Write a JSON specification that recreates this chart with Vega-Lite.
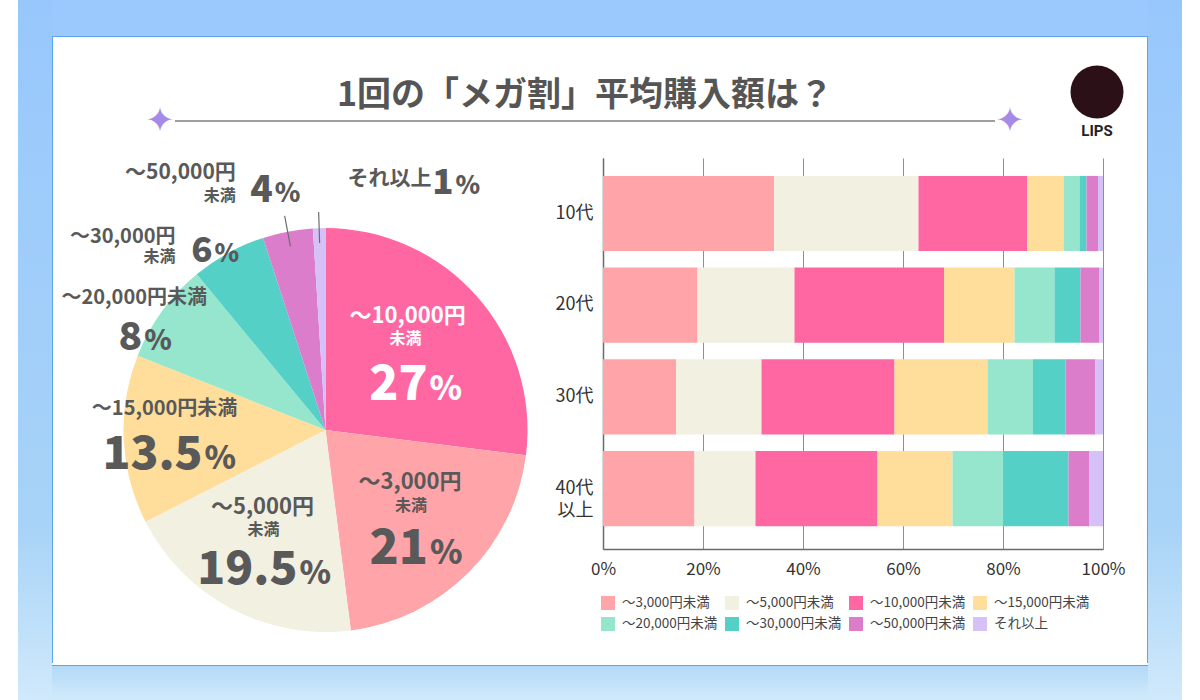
{
"$schema":"https://vega.github.io/schema/vega-lite/v6.json",
"background":"#ffffff",
"padding":{"left":18,"right":18,"top":0,"bottom":0},
"spacing":0,
"config":{"view":{"stroke":null},"concat":{"spacing":0},"font":"Noto Sans CJK JP"},
"datasets":{
"pie":[
{"cat":"〜10,000円未満","name1":"〜10,000円","name2":"未満","pct":27},
{"cat":"〜3,000円未満","name1":"〜3,000円","name2":"未満","pct":21},
{"cat":"〜5,000円未満","name1":"〜5,000円","name2":"未満","pct":19.5},
{"cat":"〜15,000円未満","name1":"〜15,000円未満","name2":"","pct":13.5},
{"cat":"〜20,000円未満","name1":"〜20,000円未満","name2":"","pct":8},
{"cat":"〜30,000円未満","name1":"〜30,000円","name2":"未満","pct":6},
{"cat":"〜50,000円未満","name1":"〜50,000円","name2":"未満","pct":4},
{"cat":"それ以上","name1":"それ以上","name2":"","pct":1}
],
"bars":[
{"age":"10代","cat":"〜3,000円未満","k":1,"pct":34.2},
{"age":"10代","cat":"〜5,000円未満","k":2,"pct":28.9},
{"age":"10代","cat":"〜10,000円未満","k":3,"pct":21.7},
{"age":"10代","cat":"〜15,000円未満","k":4,"pct":7.3},
{"age":"10代","cat":"〜20,000円未満","k":5,"pct":3.2},
{"age":"10代","cat":"〜30,000円未満","k":6,"pct":1.4},
{"age":"10代","cat":"〜50,000円未満","k":7,"pct":2.3},
{"age":"10代","cat":"それ以上","k":8,"pct":1.0},
{"age":"20代","cat":"〜3,000円未満","k":1,"pct":18.9},
{"age":"20代","cat":"〜5,000円未満","k":2,"pct":19.4},
{"age":"20代","cat":"〜10,000円未満","k":3,"pct":29.9},
{"age":"20代","cat":"〜15,000円未満","k":4,"pct":14.1},
{"age":"20代","cat":"〜20,000円未満","k":5,"pct":8.0},
{"age":"20代","cat":"〜30,000円未満","k":6,"pct":5.2},
{"age":"20代","cat":"〜50,000円未満","k":7,"pct":3.7},
{"age":"20代","cat":"それ以上","k":8,"pct":0.8},
{"age":"30代","cat":"〜3,000円未満","k":1,"pct":14.6},
{"age":"30代","cat":"〜5,000円未満","k":2,"pct":17.1},
{"age":"30代","cat":"〜10,000円未満","k":3,"pct":26.6},
{"age":"30代","cat":"〜15,000円未満","k":4,"pct":18.6},
{"age":"30代","cat":"〜20,000円未満","k":5,"pct":9.1},
{"age":"30代","cat":"〜30,000円未満","k":6,"pct":6.5},
{"age":"30代","cat":"〜50,000円未満","k":7,"pct":6.0},
{"age":"30代","cat":"それ以上","k":8,"pct":1.5},
{"age":"40代以上","cat":"〜3,000円未満","k":1,"pct":18.3},
{"age":"40代以上","cat":"〜5,000円未満","k":2,"pct":12.2},
{"age":"40代以上","cat":"〜10,000円未満","k":3,"pct":24.4},
{"age":"40代以上","cat":"〜15,000円未満","k":4,"pct":15.0},
{"age":"40代以上","cat":"〜20,000円未満","k":5,"pct":10.2},
{"age":"40代以上","cat":"〜30,000円未満","k":6,"pct":13.0},
{"age":"40代以上","cat":"〜50,000円未満","k":7,"pct":4.1},
{"age":"40代以上","cat":"それ以上","k":8,"pct":2.8}
]
},
"hconcat":[
{"width":34,"height":700,"view":{"stroke":null,"fill":{"gradient":"linear","x1":0,"y1":0,"x2":0,"y2":1,"stops":[{"offset":0,"color":"#98c7fd"},{"offset":0.75,"color":"#a7d3f7"},{"offset":1,"color":"#d0e9fb"}]}},"data":{"values":[]},"mark":"point"},
{"vconcat":[
 {"width":1096,"height":36,"view":{"stroke":null,"fill":"#9bc9fd"},"data":{"values":[]},"mark":"point"},
 {"width":1096,"height":1,"view":{"stroke":null,"fill":"#5ba6ea"},"data":{"values":[]},"mark":"point"},
 {"hconcat":[
  {"width":1,"height":626,"view":{"stroke":null,"fill":"#5ba6ea"},"data":{"values":[]},"mark":"point"},
  {"vconcat":[
   {"hconcat":[
    {"width":92,"height":121,"data":{"values":[]},"mark":"point"},
    {"vconcat":[
     {"width":30,"height":62,"data":{"values":[]},"mark":"point"},
     {"width":30,"height":44,"data":{"values":[{"s":"✦"}]},"mark":{"type":"text","font":"DejaVu Sans","fontSize":35,"color":"#a58be8","baseline":"middle"},"encoding":{"text":{"field":"s","type":"nominal"}}}
    ],"spacing":0},
    {"vconcat":[
     {"width":820,"height":35,"data":{"values":[]},"mark":"point"},
     {"width":820,"height":48,"data":{"values":[{"t":"1回の「メガ割」平均購入額は？"}]},"mark":{"type":"text","fontSize":34,"fontWeight":"bold","color":"#555555","baseline":"middle"},"encoding":{"text":{"field":"t","type":"nominal"}}},
     {"width":820,"height":2,"view":{"stroke":null,"fill":"#9e9e9e"},"data":{"values":[]},"mark":"point"}
    ],"spacing":0},
    {"vconcat":[
     {"width":30,"height":62,"data":{"values":[]},"mark":"point"},
     {"width":30,"height":44,"data":{"values":[{"s":"✦"}]},"mark":{"type":"text","font":"DejaVu Sans","fontSize":35,"color":"#a58be8","baseline":"middle"},"encoding":{"text":{"field":"s","type":"nominal"}}}
    ],"spacing":0},
    {"width":32,"height":1,"data":{"values":[]},"mark":"point"},
    {"vconcat":[
     {"width":80,"height":27,"data":{"values":[]},"mark":"point"},
     {"width":80,"height":56,"data":{"values":[{"a":1}]},"mark":{"type":"point","shape":"circle","filled":true,"size":2809,"color":"#2b1117","opacity":1}},
     {"width":80,"height":22,"data":{"values":[{"t":"LIPS"}]},"mark":{"type":"text","fontSize":15,"fontWeight":"bold","color":"#222222","font":"Roboto","baseline":"middle"},"encoding":{"text":{"field":"t","type":"nominal"}}}
    ],"spacing":0},
    {"width":10,"height":1,"data":{"values":[]},"mark":"point"}
   ],"spacing":0},
   {"hconcat":[
    {"vconcat":[
     {"width":545,"height":4,"data":{"values":[]},"mark":"point"},
     {"width":545,"height":470,"data":{"name":"pie"},
      "layer":[
       {"mark":{"type":"arc","radius":202},"encoding":{"theta":{"field":"pct","type":"quantitative","stack":true,"scale":{"domain":[0,100]}},"order":{"field":"pct","type":"quantitative","sort":"descending"},"color":{"field":"cat","type":"nominal","scale":{"domain":["〜3,000円未満","〜5,000円未満","〜10,000円未満","〜15,000円未満","〜20,000円未満","〜30,000円未満","〜50,000円未満","それ以上"],"range":["#FFA5A9","#F2F0E0","#FF67A3","#FFDD9A","#96E6CE","#55D0C7","#DB7DCB","#D5C0F8"]},"legend":null}}},
       {"mark":{"type":"arc","radius":218,"radius2":187,"padAngle":1.2,"fill":"transparent","strokeWidth":1.2},"encoding":{"theta":{"field":"pct","type":"quantitative","stack":true},"order":{"field":"pct","type":"quantitative","sort":"descending"},"stroke":{"condition":{"test":"datum.cat === '〜50,000円未満' || datum.cat === 'それ以上'","value":"#6e6e6e"},"value":"transparent"}}},

       {"transform":[{"window":[{"op":"sum","field":"pct","as":"cum"}],"sort":[{"field":"pct","order":"descending"}]},{"filter":"datum.cat === '〜10,000円未満'"}],
        "encoding":{"theta":{"field":"cum","type":"quantitative","stack":null}},
        "layer":[
         {"mark":{"type":"text","radius":112,"dx":-29,"dy":-128,"fontSize":22,"fontWeight":"bold","color":"#ffffff","align":"center","baseline":"middle"},"encoding":{"text":{"field":"name1","type":"nominal"}}},
         {"mark":{"type":"text","radius":112,"dx":-31,"dy":-105,"fontSize":16,"fontWeight":"bold","color":"#ffffff","align":"center","baseline":"middle"},"encoding":{"text":{"field":"name2","type":"nominal"}}},
         {"mark":{"type":"text","radius":112,"dx":-9,"dy":-44,"fontSize":48,"fontWeight":900,"color":"#ffffff","align":"right","baseline":"alphabetic"},"encoding":{"text":{"field":"pct","type":"quantitative","format":".1~f"}}},
         {"mark":{"type":"text","radius":112,"dx":-7,"dy":-44,"fontSize":33,"fontWeight":900,"color":"#ffffff","align":"left","baseline":"alphabetic"},"encoding":{"text":{"value":"%"}}}
        ]},

       {"transform":[{"window":[{"op":"sum","field":"pct","as":"cum"}],"sort":[{"field":"pct","order":"descending"}]},{"filter":"datum.cat === '〜3,000円未満'"}],
        "encoding":{"theta":{"field":"cum","type":"quantitative","stack":null}},
        "layer":[
         {"mark":{"type":"text","radius":124,"dx":69,"dy":-71,"fontSize":22,"fontWeight":"bold","color":"#595959","align":"center","baseline":"middle"},"encoding":{"text":{"field":"name1","type":"nominal"}}},
         {"mark":{"type":"text","radius":124,"dx":70,"dy":-47,"fontSize":16,"fontWeight":"bold","color":"#595959","align":"center","baseline":"middle"},"encoding":{"text":{"field":"name2","type":"nominal"}}},
         {"mark":{"type":"text","radius":124,"dx":87,"dy":11,"fontSize":48,"fontWeight":900,"color":"#595959","align":"right","baseline":"alphabetic"},"encoding":{"text":{"field":"pct","type":"quantitative","format":".1~f"}}},
         {"mark":{"type":"text","radius":124,"dx":89,"dy":11,"fontSize":33,"fontWeight":900,"color":"#595959","align":"left","baseline":"alphabetic"},"encoding":{"text":{"value":"%"}}}
        ]},

       {"transform":[{"window":[{"op":"sum","field":"pct","as":"cum"}],"sort":[{"field":"pct","order":"descending"}]},{"filter":"datum.cat === '〜5,000円未満'"}],
        "encoding":{"theta":{"field":"cum","type":"quantitative","stack":null}},
        "layer":[
         {"mark":{"type":"text","radius":128,"dx":51,"dy":19,"fontSize":22,"fontWeight":"bold","color":"#595959","align":"center","baseline":"middle"},"encoding":{"text":{"field":"name1","type":"nominal"}}},
         {"mark":{"type":"text","radius":128,"dx":52,"dy":42,"fontSize":16,"fontWeight":"bold","color":"#595959","align":"center","baseline":"middle"},"encoding":{"text":{"field":"name2","type":"nominal"}}},
         {"mark":{"type":"text","radius":128,"dx":86,"dy":96,"fontSize":46,"fontWeight":900,"color":"#595959","align":"right","baseline":"alphabetic"},"encoding":{"text":{"field":"pct","type":"quantitative","format":".1~f"}}},
         {"mark":{"type":"text","radius":128,"dx":88,"dy":96,"fontSize":32,"fontWeight":900,"color":"#595959","align":"left","baseline":"alphabetic"},"encoding":{"text":{"value":"%"}}}
        ]},

       {"transform":[{"window":[{"op":"sum","field":"pct","as":"cum"}],"sort":[{"field":"pct","order":"descending"}]},{"filter":"datum.cat === '〜15,000円未満'"}],
        "encoding":{"theta":{"field":"cum","type":"quantitative","stack":null}},
        "layer":[
         {"mark":{"type":"text","radius":158,"dx":-14,"dy":37,"fontSize":20,"fontWeight":"bold","color":"#595959","align":"center","baseline":"middle"},"encoding":{"text":{"field":"name1","type":"nominal"}}},
         {"mark":{"type":"text","radius":158,"dx":24,"dy":97,"fontSize":46,"fontWeight":900,"color":"#595959","align":"right","baseline":"alphabetic"},"encoding":{"text":{"field":"pct","type":"quantitative","format":".1~f"}}},
         {"mark":{"type":"text","radius":158,"dx":26,"dy":97,"fontSize":32,"fontWeight":900,"color":"#595959","align":"left","baseline":"alphabetic"},"encoding":{"text":{"value":"%"}}}
        ]},

       {"transform":[{"window":[{"op":"sum","field":"pct","as":"cum"}],"sort":[{"field":"pct","order":"descending"}]},{"filter":"datum.cat === '〜20,000円未満'"}],
        "encoding":{"theta":{"field":"cum","type":"quantitative","stack":null}},
        "layer":[
         {"mark":{"type":"text","radius":220,"dx":-51,"dy":38,"fontSize":20,"fontWeight":"bold","color":"#595959","align":"center","baseline":"middle"},"encoding":{"text":{"field":"name1","type":"nominal"}}},
         {"mark":{"type":"text","radius":220,"dx":-43,"dy":90,"fontSize":39,"fontWeight":900,"color":"#595959","align":"right","baseline":"alphabetic"},"encoding":{"text":{"field":"pct","type":"quantitative","format":".1~f"}}},
         {"mark":{"type":"text","radius":220,"dx":-41,"dy":90,"fontSize":28,"fontWeight":900,"color":"#595959","align":"left","baseline":"alphabetic"},"encoding":{"text":{"value":"%"}}}
        ]},

       {"transform":[{"window":[{"op":"sum","field":"pct","as":"cum"}],"sort":[{"field":"pct","order":"descending"}]},{"filter":"datum.cat === '〜30,000円未満'"}],
        "encoding":{"theta":{"field":"cum","type":"quantitative","stack":null}},
        "layer":[
         {"mark":{"type":"text","radius":220,"dx":-82,"dy":16,"fontSize":20,"fontWeight":"bold","color":"#595959","align":"right","baseline":"middle"},"encoding":{"text":{"field":"name1","type":"nominal"}}},
         {"mark":{"type":"text","radius":220,"dx":-82,"dy":36,"fontSize":16,"fontWeight":"bold","color":"#595959","align":"right","baseline":"middle"},"encoding":{"text":{"field":"name2","type":"nominal"}}},
         {"mark":{"type":"text","radius":220,"dx":-45,"dy":41,"fontSize":35,"fontWeight":900,"color":"#595959","align":"right","baseline":"alphabetic"},"encoding":{"text":{"field":"pct","type":"quantitative","format":".1~f"}}},
         {"mark":{"type":"text","radius":220,"dx":-43,"dy":41,"fontSize":25,"fontWeight":900,"color":"#595959","align":"left","baseline":"alphabetic"},"encoding":{"text":{"value":"%"}}}
        ]},

       {"transform":[{"window":[{"op":"sum","field":"pct","as":"cum"}],"sort":[{"field":"pct","order":"descending"}]},{"filter":"datum.cat === '〜50,000円未満'"}],
        "encoding":{"theta":{"field":"cum","type":"quantitative","stack":null}},
        "layer":[
         {"mark":{"type":"text","radius":250,"dx":-74,"dy":-7,"fontSize":21,"fontWeight":"bold","color":"#595959","align":"right","baseline":"middle"},"encoding":{"text":{"field":"name1","type":"nominal"}}},
         {"mark":{"type":"text","radius":250,"dx":-74,"dy":16,"fontSize":16,"fontWeight":"bold","color":"#595959","align":"right","baseline":"middle"},"encoding":{"text":{"field":"name2","type":"nominal"}}},
         {"mark":{"type":"text","radius":250,"dx":-37,"dy":22,"fontSize":37,"fontWeight":900,"color":"#595959","align":"right","baseline":"alphabetic"},"encoding":{"text":{"field":"pct","type":"quantitative","format":".1~f"}}},
         {"mark":{"type":"text","radius":250,"dx":-35,"dy":22,"fontSize":26,"fontWeight":900,"color":"#595959","align":"left","baseline":"alphabetic"},"encoding":{"text":{"value":"%"}}}
        ]},

       {"transform":[{"window":[{"op":"sum","field":"pct","as":"cum"}],"sort":[{"field":"pct","order":"descending"}]},{"filter":"datum.cat === 'それ以上'"}],
        "encoding":{"theta":{"field":"cum","type":"quantitative","stack":null}},
        "layer":[
         {"mark":{"type":"text","radius":250,"dx":64,"dy":-1,"fontSize":21,"fontWeight":"bold","color":"#595959","align":"center","baseline":"middle"},"encoding":{"text":{"field":"name1","type":"nominal"}}},
         {"mark":{"type":"text","radius":250,"dx":128,"dy":14,"fontSize":35,"fontWeight":900,"color":"#595959","align":"right","baseline":"alphabetic"},"encoding":{"text":{"field":"pct","type":"quantitative","format":".1~f"}}},
         {"mark":{"type":"text","radius":250,"dx":130,"dy":14,"fontSize":25,"fontWeight":900,"color":"#595959","align":"left","baseline":"alphabetic"},"encoding":{"text":{"value":"%"}}}
        ]}
      ]}
    ],"spacing":0},
    {"width":500,"height":391,"data":{"name":"bars"},"mark":{"type":"bar"},
     "encoding":{
      "y":{"field":"age","type":"nominal","scale":{"paddingInner":0.18,"paddingOuter":0.222,"align":0.44},
           "axis":{"title":null,"ticks":false,"domainColor":"#6a6a6a","domainWidth":1.5,"labelFontSize":18,"labelColor":"#333333","labelPadding":10,"labelLineHeight":22,"labelExpr":"datum.label == '40代以上' ? ['40代','以上'] : datum.label"}},
      "x":{"field":"pct","type":"quantitative","stack":"zero","scale":{"domain":[0,100]},
           "axis":{"title":null,"values":[0,20,40,60,80,100],"labelExpr":"datum.value + '%'","grid":true,"gridColor":"#8f8f8f","gridWidth":1,"ticks":false,"domainColor":"#6a6a6a","domainWidth":1.5,"labelFontSize":17,"labelColor":"#333333","labelPadding":12,"labelFlush":false}},
      "color":{"field":"cat","type":"nominal","scale":{"domain":["〜3,000円未満","〜5,000円未満","〜10,000円未満","〜15,000円未満","〜20,000円未満","〜30,000円未満","〜50,000円未満","それ以上"],"range":["#FFA5A9","#F2F0E0","#FF67A3","#FFDD9A","#96E6CE","#55D0C7","#DB7DCB","#D5C0F8"]},
           "legend":{"title":null,"orient":"none","legendX":-3,"legendY":437,"direction":"horizontal","columns":4,"gridAlign":"none","symbolType":"square","symbolSize":196,"labelFontSize":13.5,"labelColor":"#444444","labelOffset":6,"columnPadding":6,"rowPadding":6,"padding":0,"labelLimit":200}},
      "order":{"field":"k","type":"quantitative"}
     }}
   ],"spacing":-43,"resolve":{"scale":{"color":"independent"},"legend":{"color":"independent"}}}
  ],"spacing":0},
  {"width":1,"height":626,"view":{"stroke":null,"fill":"#5ba6ea"},"data":{"values":[]},"mark":"point"}
 ],"spacing":0},
 {"width":1096,"height":1,"view":{"stroke":null,"fill":"#5ba6ea"},"data":{"values":[]},"mark":"point"},
 {"width":1096,"height":36,"view":{"stroke":null,"fill":{"gradient":"linear","x1":0,"y1":0,"x2":0,"y2":1,"stops":[{"offset":0,"color":"#b3d9f8"},{"offset":1,"color":"#d3ebfb"}]}},"data":{"values":[]},"mark":"point"}
],"spacing":0},
{"width":34,"height":700,"view":{"stroke":null,"fill":{"gradient":"linear","x1":0,"y1":0,"x2":0,"y2":1,"stops":[{"offset":0,"color":"#98c7fd"},{"offset":0.75,"color":"#a7d3f7"},{"offset":1,"color":"#d0e9fb"}]}},"data":{"values":[]},"mark":"point"}
]
}
